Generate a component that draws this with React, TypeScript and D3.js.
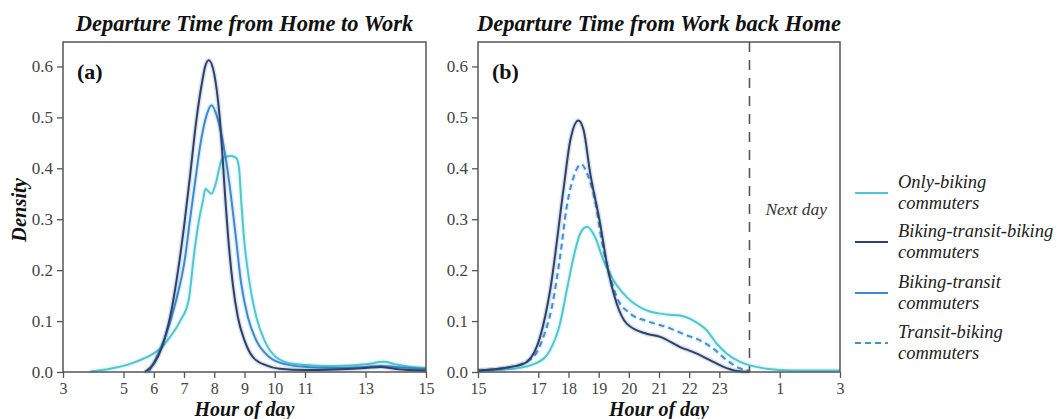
import { useEffect, useRef } from "react";
import * as d3 from "d3";

// ---- data (hour of day, density) ----
// (a) home -> work
const workOnlyBikingHours = [3.9, 4.56, 5.22, 5.66, 5.99, 6.27, 6.54, 6.87, 7.15, 7.35, 7.5, 7.63, 7.71, 7.8, 7.91, 8.05, 8.24, 8.35, 8.55, 8.73, 8.82, 8.89, 8.97, 9.17, 9.39, 9.66, 10.05, 10.6, 11.26, 12, 13, 13.6, 14, 14.5, 15];
const workOnlyBikingDensity = [0.001, 0.0065, 0.016, 0.026, 0.036, 0.049, 0.069, 0.1, 0.14, 0.24, 0.3, 0.337, 0.36, 0.355, 0.35, 0.37, 0.416, 0.422, 0.424, 0.42, 0.4, 0.337, 0.272, 0.174, 0.108, 0.062, 0.029, 0.016, 0.013, 0.012, 0.015, 0.02, 0.015, 0.01, 0.008];

const workBtbHours = [5.7, 6.0, 6.27, 6.54, 6.82, 7.0, 7.2, 7.41, 7.6, 7.7, 7.82, 8.0, 8.18, 8.37, 8.45, 8.61, 8.78, 9.0, 9.28, 9.72, 10.16, 11, 12, 13, 13.5, 14, 15];
const workBtbDensity = [0, 0.016, 0.049, 0.108, 0.206, 0.285, 0.385, 0.495, 0.57, 0.6, 0.612, 0.585, 0.5, 0.337, 0.272, 0.174, 0.108, 0.062, 0.029, 0.013, 0.0065, 0.004, 0.005, 0.008, 0.01, 0.006, 0.003];

const workBtHours = [5.83, 6.1, 6.38, 6.71, 7.04, 7.2, 7.36, 7.55, 7.75, 7.91, 8.1, 8.35, 8.5, 8.7, 8.89, 9.11, 9.39, 9.83, 10.38, 11.04, 12, 13, 13.5, 14, 15];
const workBtDensity = [0, 0.03, 0.069, 0.134, 0.226, 0.3, 0.37, 0.45, 0.505, 0.524, 0.5, 0.43, 0.37, 0.272, 0.174, 0.108, 0.062, 0.029, 0.015, 0.01, 0.008, 0.01, 0.012, 0.01, 0.006];

// (b) work -> home (24+ = next day)
const homeOnlyBikingHours = [15, 16.18, 16.95, 17.39, 17.72, 17.94, 18.17, 18.39, 18.61, 18.88, 19.16, 19.49, 19.93, 20.59, 21.26, 21.7, 22.14, 22.58, 22.91, 23.25, 23.69, 24.02, 24.57, 25.01, 26, 27];
const homeOnlyBikingDensity = [0.002, 0.0065, 0.018, 0.043, 0.095, 0.16, 0.226, 0.272, 0.285, 0.265, 0.219, 0.18, 0.147, 0.121, 0.113, 0.111, 0.101, 0.082, 0.056, 0.036, 0.02, 0.013, 0.0065, 0.004, 0.003, 0.003];

const homeBtbHours = [15, 16.18, 16.62, 17.06, 17.39, 17.83, 18.06, 18.33, 18.5, 18.72, 19.05, 19.27, 19.6, 19.93, 20.59, 21.04, 21.7, 22.14, 22.7, 23.14, 23.58, 24];
const homeBtbDensity = [0.003, 0.011, 0.02, 0.069, 0.16, 0.357, 0.455, 0.494, 0.475, 0.39, 0.291, 0.213, 0.134, 0.095, 0.075, 0.069, 0.049, 0.039, 0.023, 0.01, 0.002, 0];

const homeTbHours = [15, 16.18, 16.84, 17.17, 17.45, 17.72, 17.94, 18.17, 18.42, 18.66, 18.88, 19.1, 19.32, 19.6, 20.04, 20.6, 21.26, 21.92, 22.36, 22.8, 23.25, 23.69, 24.02];
const homeTbDensity = [0.003, 0.011, 0.03, 0.069, 0.128, 0.226, 0.324, 0.383, 0.408, 0.383, 0.337, 0.259, 0.2, 0.147, 0.115, 0.1, 0.088, 0.072, 0.062, 0.046, 0.023, 0.007, 0.002];

const xTicksWork = [3, 5, 6, 7, 8, 9, 10, 11, 13, 15];
const xTicksHome = [15, 17, 18, 19, 20, 21, 22, 23, 25, 27];
const yTicks = [0, 0.1, 0.2, 0.3, 0.4, 0.5, 0.6];

const legendNames = [["Only-biking", "commuters"], ["Biking-transit-biking", "commuters"], ["Biking-transit", "commuters"], ["Transit-biking", "commuters"]];
const legendColors = ["#4fc6d2", "#2a426c", "#3a8bd2", "#3f91d8"];
const legendDashes = [null, null, null, "6,4"];

const FONT = "'Liberation Serif', 'Times New Roman', serif";

function zip(h: number[], d: number[]) {
    return h.map((x, i) => ({ h: x, d: d[i] }));
}

function App() {
    const svgRef = useRef<SVGSVGElement>(null);

    useEffect(() => {
        document.body.style.margin = "0";
        const svg = d3.select(svgRef.current);
        svg.selectAll("*").remove();

        const top = 42;
        const bottom = 372;
        const yScale = d3.scaleLinear().domain([0, 0.648]).range([bottom, top]);

        const panels = [
            {
                left: 63, right: 426, domain: [3, 15], ticks: xTicksWork,
                title: "Departure Time from Home to Work", tag: "(a)",
                lines: [
                    { data: zip(workOnlyBikingHours, workOnlyBikingDensity), k: 0 },
                    { data: zip(workBtHours, workBtDensity), k: 2 },
                    { data: zip(workBtbHours, workBtbDensity), k: 1 },
                ],
            },
            {
                left: 478, right: 840, domain: [15, 27], ticks: xTicksHome,
                title: "Departure Time from Work back Home", tag: "(b)",
                lines: [
                    { data: zip(homeOnlyBikingHours, homeOnlyBikingDensity), k: 0 },
                    { data: zip(homeTbHours, homeTbDensity), k: 3 },
                    { data: zip(homeBtbHours, homeBtbDensity), k: 1 },
                ],
            },
        ];

        panels.forEach((p, pi) => {
            const xScale = d3.scaleLinear().domain(p.domain).range([p.left, p.right]);
            const g = svg.append("g");

            // curves
            const myLine = d3.line<{ h: number; d: number }>()
                .x((v) => xScale(v.h))
                .y((v) => yScale(v.d))
                .curve(d3.curveMonotoneX);

            p.lines.forEach((s) => {
                // soft halo like the blurred original
                g.append("path")
                    .attr("d", myLine(s.data))
                    .attr("fill", "none")
                    .attr("stroke", legendColors[s.k])
                    .attr("stroke-width", 5)
                    .attr("stroke-opacity", 0.15)
                    .attr("stroke-dasharray", legendDashes[s.k] ? "6,4" : null);
                g.append("path")
                    .attr("d", myLine(s.data))
                    .attr("fill", "none")
                    .attr("stroke", legendColors[s.k])
                    .attr("stroke-width", 2)
                    .attr("stroke-dasharray", legendDashes[s.k]);
            });

            // midnight marker
            if (pi === 1) {
                g.append("line")
                    .attr("x1", xScale(24)).attr("x2", xScale(24))
                    .attr("y1", top).attr("y2", bottom)
                    .attr("stroke", "#555")
                    .attr("stroke-width", 1.6)
                    .attr("stroke-dasharray", "10,8");
                g.append("text")
                    .attr("x", xScale(25.55))
                    .attr("y", 215)
                    .attr("text-anchor", "middle")
                    .attr("font-style", "italic")
                    .attr("font-size", 17.5)
                    .attr("fill", "#333")
                    .text("Next day");
            }

            // frame
            g.append("rect")
                .attr("x", p.left).attr("y", top)
                .attr("width", p.right - p.left).attr("height", bottom - top)
                .attr("fill", "none")
                .attr("stroke", "#555")
                .attr("stroke-width", 1.5);

            // x axis
            const xAxis = d3.axisBottom(xScale)
                .tickValues(p.ticks)
                .tickSize(6)
                .tickFormat((d) => String((d as number) % 24));
            const xg = g.append("g").attr("transform", `translate(0,${bottom})`).call(xAxis);
            xg.select(".domain").remove();
            xg.selectAll("line").attr("stroke", "#555").attr("stroke-width", 1.3);
            xg.selectAll("text").attr("fill", "#444").attr("font-size", 16).attr("dy", "0.8em");

            // y axis
            const yAxis = d3.axisLeft(yScale).tickValues(yTicks).tickSize(6).tickFormat(d3.format(".1f"));
            const yg = g.append("g").attr("transform", `translate(${p.left},0)`).call(yAxis);
            yg.select(".domain").remove();
            yg.selectAll("line").attr("stroke", "#555").attr("stroke-width", 1.3);
            yg.selectAll("text").attr("fill", "#444").attr("font-size", 17).attr("x", -10);

            // titles & labels
            g.append("text")
                .attr("x", (p.left + p.right) / 2).attr("y", 31)
                .attr("text-anchor", "middle")
                .attr("font-weight", "bold").attr("font-style", "italic")
                .attr("font-size", 22.5).attr("fill", "#111")
                .text(p.title);
            g.append("text")
                .attr("x", (p.left + p.right) / 2).attr("y", 416)
                .attr("text-anchor", "middle")
                .attr("font-weight", "bold").attr("font-style", "italic")
                .attr("font-size", 20).attr("fill", "#111")
                .text("Hour of day");
            g.append("text")
                .attr("x", p.left + 14).attr("y", 79)
                .attr("font-weight", "bold")
                .attr("font-size", 22).attr("fill", "#111")
                .text(p.tag);
        });

        svg.append("text")
            .attr("transform", `translate(26,${(top + bottom) / 2 + 3}) rotate(-90)`)
            .attr("text-anchor", "middle")
            .attr("font-weight", "bold").attr("font-style", "italic")
            .attr("font-size", 20.5).attr("fill", "#111")
            .text("Density");

        // legend
        const legendY = [193, 242, 293, 343];
        const lg = svg.append("g");
        legendNames.forEach((names, i) => {
            lg.append("line")
                .attr("x1", 855).attr("x2", 888)
                .attr("y1", legendY[i]).attr("y2", legendY[i])
                .attr("stroke", legendColors[i])
                .attr("stroke-width", 2.2)
                .attr("stroke-dasharray", legendDashes[i]);
            names.forEach((t, j) => {
                lg.append("text")
                    .attr("x", 898).attr("y", legendY[i] - 5 + j * 21)
                    .attr("font-style", "italic")
                    .attr("font-size", 18.5).attr("fill", "#222")
                    .text(t);
            });
        });

        svg.selectAll("text").style("font-family", FONT);
    }, []);

    return (
        <svg ref={svgRef} width={1061} height={419} style={{ display: "block", background: "#fff" }}></svg>
    );
}

export default App;
